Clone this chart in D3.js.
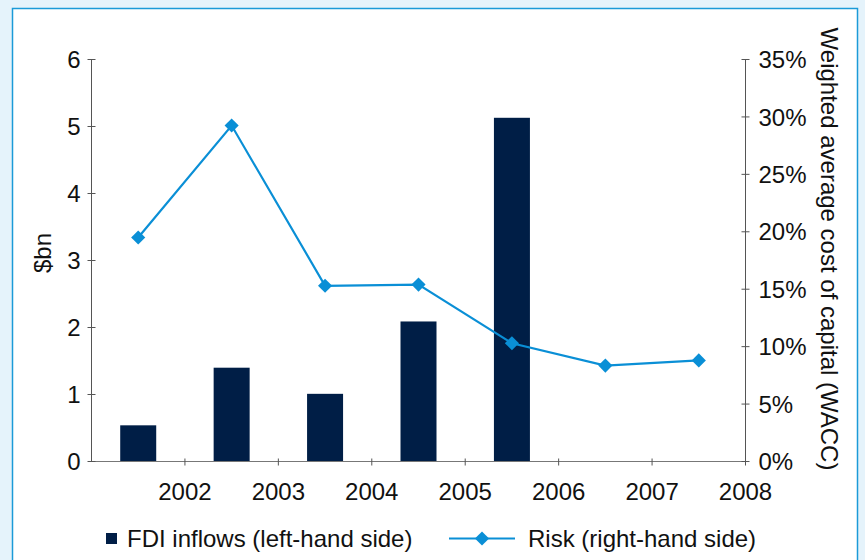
<!DOCTYPE html>
<html><head><meta charset="utf-8">
<script src="https://cdn.jsdelivr.net/npm/d3@7"></script>
<style>
html,body{margin:0;padding:0;background:#e5f3fb;}
svg{display:block;font-family:"Liberation Sans",Arial,sans-serif;}
</style></head>
<body><svg id="c" width="865" height="560"></svg>
<script>
const periods = ["2001","2002","2003","2004","2005","2006","2007"];
const tickLabels = ["2002","2003","2004","2005","2006","2007","2008"];
const fdi = [0.54, 1.40, 1.01, 2.09, 5.13, null, null];
const risk = [0.195, 0.2925, 0.153, 0.154, 0.103, 0.0835, 0.088];
const leftTicks = [0,1,2,3,4,5,6];
const rightTicks = [0,0.05,0.10,0.15,0.20,0.25,0.30,0.35];

const svg = d3.select("#c");
svg.append("rect").attr("x",0).attr("y",0).attr("width",865).attr("height",560).attr("fill","#e5f3fb");
svg.append("rect").attr("x",12.5).attr("y",8.5).attr("width",845).attr("height",560)
  .attr("fill","#fff").attr("stroke","#1b9ad8").attr("stroke-width",1.5);

const L=91.5, R=745.5, T=59.5, B=461.5;
const x = d3.scaleBand().domain(periods).range([L,R]).paddingInner(0).paddingOuter(0);
const yL = d3.scaleLinear().domain([0,6]).range([B,T]);
const yR = d3.scaleLinear().domain([0,0.35]).range([B,T]);
const axisCol = "#555";
const FS = 24;

// bars
const barW = 36;
svg.append("g").selectAll("rect").data(periods.map((p,i)=>({p,v:fdi[i]})).filter(d=>d.v!=null))
  .join("rect")
  .attr("x",d=>x(d.p)+x.bandwidth()/2-barW/2)
  .attr("y",d=>yL(d.v)).attr("width",barW).attr("height",d=>B-yL(d.v))
  .attr("fill","#001e46");

// axes
const g = svg.append("g").attr("stroke",axisCol).attr("stroke-width",1);
g.append("line").attr("x1",L).attr("x2",L).attr("y1",T).attr("y2",B);
g.append("line").attr("x1",R).attr("x2",R).attr("y1",T).attr("y2",B);
g.append("line").attr("x1",L).attr("x2",R).attr("y1",B).attr("y2",B).attr("stroke","#777");
leftTicks.forEach(t=>g.append("line").attr("x1",L-4).attr("x2",L+4).attr("y1",yL(t)).attr("y2",yL(t)));
rightTicks.forEach(t=>g.append("line").attr("x1",R-4).attr("x2",R+4).attr("y1",yR(t)).attr("y2",yR(t)));
const xTickPos = periods.map(p=>x(p)+x.bandwidth());
xTickPos.forEach(px=>g.append("line").attr("x1",px).attr("x2",px).attr("y1",B-3).attr("y2",B+4));

const txt = svg.append("g").attr("fill","#111").style("font-size",FS+"px");
leftTicks.forEach(t=>txt.append("text").attr("x",L-11).attr("y",yL(t)).attr("dy","0.36em")
  .attr("text-anchor","end").text(t));
rightTicks.forEach(t=>txt.append("text").attr("x",R+13).attr("y",yR(t)).attr("dy","0.36em")
  .attr("text-anchor","start").text(Math.round(t*100)+"%"));
tickLabels.forEach((s,i)=>txt.append("text").attr("x",xTickPos[i]).attr("y",500)
  .attr("text-anchor","middle").text(s));

txt.append("text").attr("transform","translate(51,253) rotate(-90)").attr("text-anchor","middle").text("$bn");
txt.append("text").attr("transform","translate(821,249) rotate(90)").attr("text-anchor","middle")
  .text("Weighted average cost of capital (WACC)");

// line
const lineCol = "#0a8fd6";
const line = d3.line().x((d,i)=>x(periods[i])+x.bandwidth()/2).y(d=>yR(d));
svg.append("path").datum(risk).attr("d",line).attr("fill","none").attr("stroke",lineCol).attr("stroke-width",2.2);
svg.append("g").selectAll("path").data(risk).join("path")
  .attr("transform",(d,i)=>`translate(${x(periods[i])+x.bandwidth()/2},${yR(d)}) rotate(45)`)
  .attr("d",d3.symbol().type(d3.symbolSquare).size(100)).attr("fill",lineCol);

// legend
const lg = svg.append("g").style("font-size",FS+"px");
lg.append("rect").attr("x",106).attr("y",533).attr("width",11).attr("height",11).attr("fill","#001e46");
lg.append("text").attr("x",127).attr("y",547).attr("fill","#111").text("FDI inflows (left-hand side)");
lg.append("line").attr("x1",449).attr("x2",515).attr("y1",538.5).attr("y2",538.5).attr("stroke",lineCol).attr("stroke-width",2.2);
lg.append("path").attr("transform","translate(482,538.5) rotate(45)").attr("d",d3.symbol().type(d3.symbolSquare).size(100)).attr("fill",lineCol);
lg.append("text").attr("x",528).attr("y",547).attr("fill","#111").text("Risk (right-hand side)");
</script></body></html>
